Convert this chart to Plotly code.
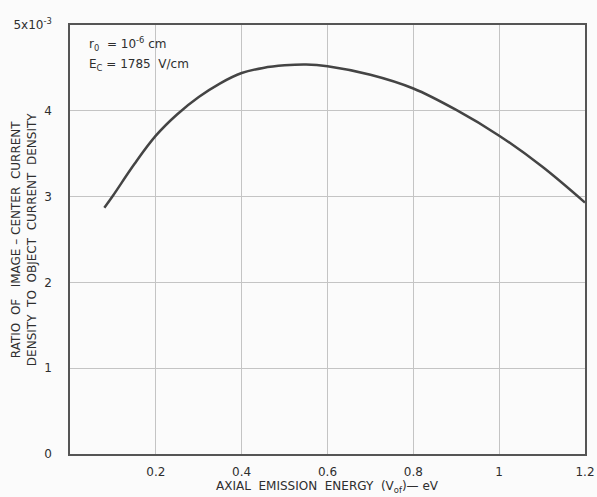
import plotly.graph_objects as go

# Ratio of image-center current density to object current density vs axial emission energy
energy_ev = [0.08, 0.10, 0.15, 0.20, 0.25, 0.30, 0.35, 0.40, 0.45, 0.50, 0.55, 0.60, 0.70, 0.80, 0.90, 1.00, 1.10, 1.20]
ratio_e3 = [2.87, 3.01, 3.38, 3.71, 3.96, 4.16, 4.32, 4.44, 4.50, 4.53, 4.54, 4.52, 4.42, 4.26, 4.01, 3.71, 3.35, 2.93]

x_ticks = [0.2, 0.4, 0.6, 0.8, 1.0, 1.2]
x_tick_text = ["0.2", "0.4", "0.6", "0.8", "1", "1.2"]
y_ticks = [0, 1, 2, 3, 4, 5]
y_tick_text = ["0", "1", "2", "3", "4", "5x10<sup>-3</sup>"]

ink = "#2e2e2e"
font_family = "DejaVu Sans, Arial, sans-serif"
label_font = dict(family=font_family, size=12, color=ink)

fig = go.Figure()
fig.add_trace(go.Scatter(
    x=energy_ev, y=ratio_e3, mode="lines",
    line=dict(color="#444444", width=2.5, shape="spline", smoothing=1.0),
    showlegend=False, hoverinfo="skip",
))

fig.update_xaxes(
    range=[0, 1.2], tickvals=x_ticks, ticktext=x_tick_text,
    showgrid=True, gridcolor="#c4c4c4", gridwidth=1,
    showline=True, linecolor="#555555", linewidth=1.5, mirror=True,
    zeroline=False, ticks="", ticklabelstandoff=6, automargin=False,
    ticklabeloverflow="allow", tickfont=label_font,
)
fig.update_yaxes(
    range=[0, 5], tickvals=y_ticks, ticktext=y_tick_text,
    showgrid=True, gridcolor="#c4c4c4", gridwidth=1,
    showline=True, linecolor="#555555", linewidth=1.5, mirror=True,
    zeroline=False, ticks="", ticklabelstandoff=14, automargin=False,
    ticklabeloverflow="allow", tickfont=label_font,
)

# axis titles
fig.add_annotation(
    x=0.5, y=-0.078, xref="paper", yref="paper", xanchor="center", yanchor="middle",
    text="AXIAL  EMISSION  ENERGY  (V<sub>of</sub>)— eV", showarrow=False,
    font=label_font,
)
fig.add_annotation(
    x=-0.09, y=0.5, xref="paper", yref="paper", xanchor="center", yanchor="middle",
    text="RATIO  OF   IMAGE – CENTER  CURRENT<br>DENSITY  TO  OBJECT  CURRENT  DENSITY",
    textangle=-90, showarrow=False, font=label_font,
)

# operating parameters
fig.add_annotation(
    x=0.04, y=4.78, xref="x", yref="y", xanchor="left", yanchor="middle",
    text="r<sub>0</sub>  = 10<sup>-6</sup> cm", showarrow=False, font=label_font,
)
fig.add_annotation(
    x=0.04, y=4.53, xref="x", yref="y", xanchor="left", yanchor="middle",
    text="E<sub>C</sub> = 1785  V/cm", showarrow=False, font=label_font,
)

fig.update_layout(
    width=597, height=497,
    margin=dict(l=70, r=12, t=25, b=43),
    paper_bgcolor="#fbfbfb", plot_bgcolor="#fbfbfb",
)

fig.write_html("out.html")
